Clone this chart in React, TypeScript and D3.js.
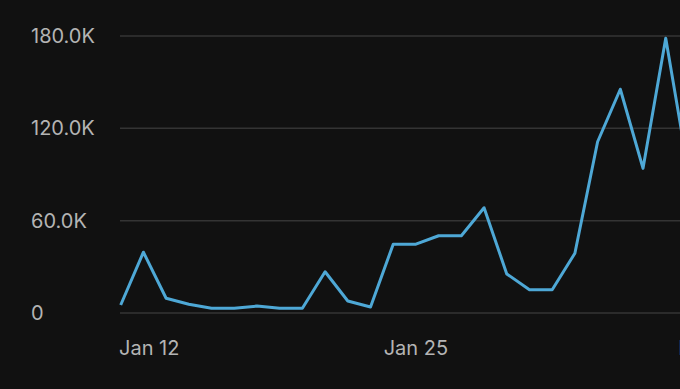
import React, { useEffect, useRef } from "react";
import * as d3 from "d3";

// daily values, Jan 12 .. Feb 6
const days = [
  "2025-01-12", "2025-01-13", "2025-01-14", "2025-01-15", "2025-01-16",
  "2025-01-17", "2025-01-18", "2025-01-19", "2025-01-20", "2025-01-21",
  "2025-01-22", "2025-01-23", "2025-01-24", "2025-01-25", "2025-01-26",
  "2025-01-27", "2025-01-28", "2025-01-29", "2025-01-30", "2025-01-31",
  "2025-02-01", "2025-02-02", "2025-02-03", "2025-02-04", "2025-02-05",
  "2025-02-06",
];
const values = [
  5200, 39500, 9600, 5700, 3100, 3100, 4500, 3100, 3100, 26800,
  7800, 3900, 44700, 44700, 50200, 50200, 68400, 25400, 15100, 15100,
  38800, 111300, 145400, 94000, 178600, 91700,
];
const yTicks = [0, 60000, 120000, 180000];
const xTicks = ["2025-01-12", "2025-01-25", "2025-02-07"];

export default function App() {
  const ref = useRef<SVGSVGElement | null>(null);

  useEffect(() => {
    const width = 730;
    const height = 389;
    const margin = { top: 36, left: 120, bottom: 76, right: 0 };
    const iheight = height - margin.top - margin.bottom;

    const parse = d3.timeParse("%Y-%m-%d");
    const data = days.map((d, i) => ({ date: parse(d)!, value: values[i] }));
    const tickDates = xTicks.map((d) => parse(d)!);

    const svg = d3.select(ref.current);
    svg.selectAll("*").remove();

    const x = d3
      .scaleTime()
      .domain([data[0].date, tickDates[2]])
      .range([margin.left + 0.7, margin.left + 0.7 + 26 * 22.71]);

    const y = d3
      .scaleLinear()
      .domain([0, 180000])
      .range([margin.top + iheight, margin.top]);

    const fmt = (v: number) => (v === 0 ? "0" : (v / 1000).toFixed(1) + "K");

    // grid lines
    svg
      .append("g")
      .selectAll("line")
      .data(yTicks)
      .join("line")
      .attr("x1", margin.left)
      .attr("x2", width)
      .attr("y1", (d) => y(d))
      .attr("y2", (d) => y(d))
      .attr("stroke", "#343434")
      .attr("stroke-width", 1.5);

    // y labels
    svg
      .append("g")
      .selectAll("text")
      .data(yTicks)
      .join("text")
      .attr("x", 31)
      .attr("y", (d) => y(d))
      .attr("dy", "0.35em")
      .attr("fill", "#b4b4b4")
      .attr("font-size", 20)
      .attr("font-family", "Inter, sans-serif")
      .text(fmt);

    // line
    const line = d3
      .line<{ date: Date; value: number }>()
      .x((d) => x(d.date))
      .y((d) => y(d.value));

    svg
      .append("path")
      .datum(data)
      .attr("d", line)
      .attr("fill", "none")
      .attr("stroke", "#4ea8d6")
      .attr("stroke-width", 3)
      .attr("stroke-linejoin", "round");

    // x labels, kept inside the chart
    const tf = d3.timeFormat("%b %-d");
    svg
      .append("g")
      .selectAll("text")
      .data(tickDates)
      .join("text")
      .attr("y", 355)
      .attr("fill", "#b4b4b4")
      .attr("font-size", 20)
      .attr("font-family", "Inter, sans-serif")
      .text((d) => tf(d))
      .each(function (d) {
        const w = (this as SVGTextElement).getComputedTextLength();
        let left = x(d) - w / 2;
        left = Math.max(margin.left - 1, Math.min(left, width - w));
        d3.select(this).attr("x", left);
      });
  }, []);

  return (
    <div style={{ position: "fixed", left: 0, top: 0, width: 680, height: 389, background: "#111111", overflow: "hidden" }}>
      <svg ref={ref} width={730} height={389} style={{ display: "block" }}></svg>
    </div>
  );
}
